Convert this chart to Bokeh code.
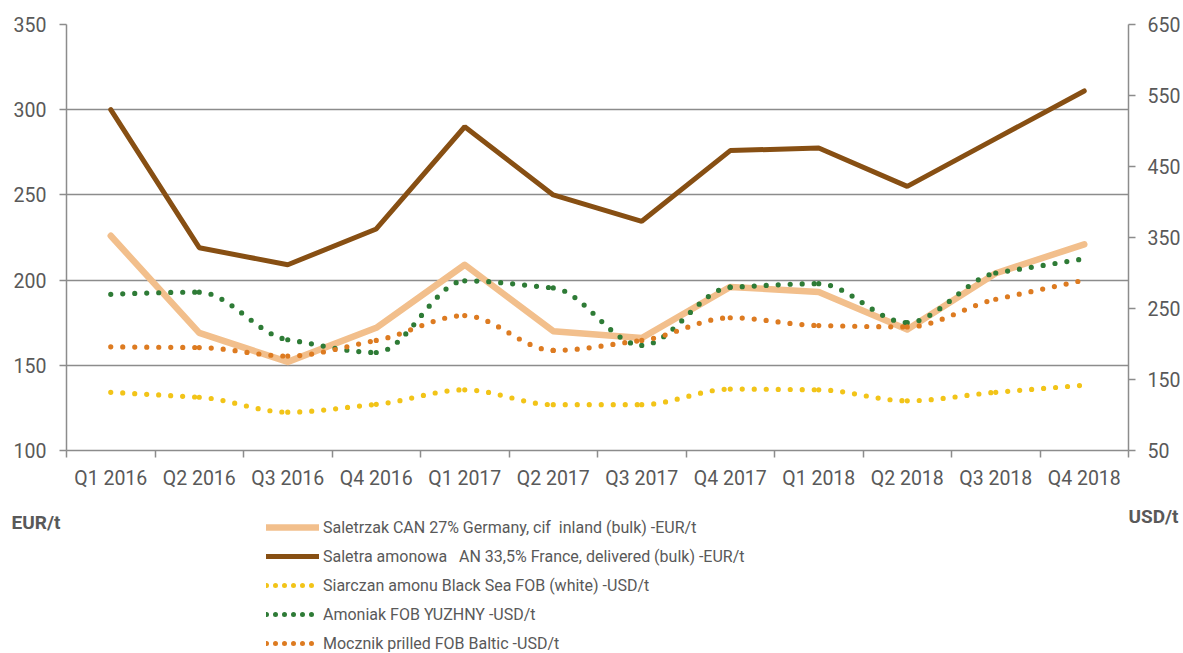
import numpy as np
from bokeh.plotting import figure
from bokeh.layouts import column
from bokeh.models import Range1d, LinearAxis, FixedTicker, Legend, LegendItem, Label, Grid
from bokeh.embed import file_html
from bokeh.resources import INLINE

# ---------------- data ----------------
categories = ["Q1 2016", "Q2 2016", "Q3 2016", "Q4 2016",
              "Q1 2017", "Q2 2017", "Q3 2017", "Q4 2017",
              "Q1 2018", "Q2 2018", "Q3 2018", "Q4 2018"]

can_germany_eur = [226, 169, 152, 172, 209, 170, 166, 196, 193, 171, 204, 221]
an_france_eur = [300, 219, 209, 230, 290, 250, 234.5, 276, 277.5, 255, 283, 311]
siarczan_usd = [132, 125, 104, 115, 135.5, 114.5, 114.5, 136.5, 135.5, 120, 132, 142]
amoniak_usd = [270, 273, 206, 188, 289, 279, 198, 280, 285, 230, 300, 320]
mocznik_usd = [196, 195, 183, 205, 240, 191, 205, 237, 226, 224, 263, 290]

eur_ticks = [100, 150, 200, 250, 300, 350]
usd_ticks = [50, 150, 250, 350, 450, 550, 650]

labels = ["Saletrzak CAN 27% Germany, cif  inland (bulk) -EUR/t",
          "Saletra amonowa   AN 33,5% France, delivered (bulk) -EUR/t",
          "Siarczan amonu Black Sea FOB (white) -USD/t",
          "Amoniak FOB YUZHNY -USD/t",
          "Mocznik prilled FOB Baltic -USD/t"]
left_unit = "EUR/t"
right_unit = "USD/t"

# ---------------- style ----------------
FONT = "Roboto"
TXT = "#595959"
AXC = "#8c8c8c"
C_TAN = "#f2bf8c"
C_BROWN = "#874f13"
C_YELLOW = "#f2c418"
C_GREEN = "#2e7b36"
C_ORANGE = "#dd7b21"
W = 1183

xs = list(range(len(categories)))

p = figure(width=W, height=498, output_backend="svg", toolbar_location=None,
           x_range=Range1d(-0.5, len(categories) - 0.5), y_range=Range1d(100, 350),
           x_axis_type=None, y_axis_type=None,
           min_border_left=66, min_border_right=55, min_border_top=24, min_border_bottom=48)
p.outline_line_color = None
p.frame_align = False
p.extra_y_ranges = {"usd": Range1d(50, 650)}

# axes
xaxis = LinearAxis(ticker=FixedTicker(ticks=xs, minor_ticks=[i - 0.5 for i in range(len(categories) + 1)]),
                   major_label_overrides={i: c for i, c in zip(xs, categories)})
xaxis.major_tick_line_color = None
xaxis.major_tick_out = 7
xaxis.major_tick_in = 0
xaxis.minor_tick_out = 7
xaxis.minor_tick_in = 0
xaxis.minor_tick_line_color = AXC
xaxis.minor_tick_line_width = 1.5
xaxis.axis_line_color = AXC
xaxis.axis_line_width = 1.5
xaxis.major_label_standoff = 9
xaxis.major_label_text_font = FONT
xaxis.major_label_text_font_size = "19.5px"
xaxis.major_label_text_color = TXT
p.add_layout(xaxis, "below")

yaxis = LinearAxis(ticker=FixedTicker(ticks=eur_ticks))
yaxis.major_tick_out = 7
yaxis.major_tick_in = 0
yaxis.minor_tick_line_color = None
yaxis.major_tick_line_color = AXC
yaxis.major_tick_line_width = 1.5
yaxis.axis_line_color = AXC
yaxis.axis_line_width = 1.5
yaxis.major_label_standoff = 13
yaxis.major_label_text_font = FONT
yaxis.major_label_text_font_size = "19.5px"
yaxis.major_label_text_color = TXT
p.add_layout(yaxis, "left")

raxis = LinearAxis(y_range_name="usd", ticker=FixedTicker(ticks=usd_ticks))
raxis.major_tick_out = 7
raxis.major_tick_in = 0
raxis.minor_tick_line_color = None
raxis.major_tick_line_color = AXC
raxis.major_tick_line_width = 1.5
raxis.axis_line_color = AXC
raxis.axis_line_width = 1.5
raxis.major_label_standoff = 12
raxis.major_label_text_font = FONT
raxis.major_label_text_font_size = "19.5px"
raxis.major_label_text_color = TXT
p.add_layout(raxis, "right")

grid = Grid(dimension=1, ticker=FixedTicker(ticks=eur_ticks))
grid.grid_line_color = AXC
grid.grid_line_width = 1.5
p.add_layout(grid)

# ---------------- series ----------------
p.line(xs, can_germany_eur, line_color=C_TAN, line_width=6.5, line_cap="round", line_join="round")
p.line(xs, an_france_eur, line_color=C_BROWN, line_width=5, line_cap="round")


def monotone_segments(xv, yv):
    """Bezier segments of a monotone cubic (smoothed line) through the given points."""
    n = len(xv)
    s = [(yv[i + 1] - yv[i]) / (xv[i + 1] - xv[i]) for i in range(n - 1)]
    m = [0.0] * n
    for i in range(1, n - 1):
        if s[i - 1] * s[i] <= 0:
            m[i] = 0.0
        else:
            sgn = 1 if s[i] > 0 else -1
            m[i] = sgn * min(abs(s[i - 1]), abs(s[i]), 0.5 * abs(s[i - 1] + s[i]))
    m[0] = (3 * s[0] - m[1]) / 2
    m[-1] = (3 * s[-1] - m[-2]) / 2
    seg = dict(x0=[], y0=[], x1=[], y1=[], cx0=[], cy0=[], cx1=[], cy1=[])
    for i in range(n - 1):
        h = xv[i + 1] - xv[i]
        seg["x0"].append(xv[i]); seg["y0"].append(yv[i])
        seg["x1"].append(xv[i + 1]); seg["y1"].append(yv[i + 1])
        seg["cx0"].append(xv[i] + h / 3); seg["cy0"].append(yv[i] + m[i] * h / 3)
        seg["cx1"].append(xv[i + 1] - h / 3); seg["cy1"].append(yv[i + 1] - m[i + 1] * h / 3)
    return seg


dot_style = dict(line_width=5.2, line_dash="0 12", line_cap="round")
for vals, col in [(siarczan_usd, C_YELLOW), (amoniak_usd, C_GREEN), (mocznik_usd, C_ORANGE)]:
    sg = monotone_segments(xs, vals)
    p.bezier(x0=sg["x0"], y0=sg["y0"], x1=sg["x1"], y1=sg["y1"], cx0=sg["cx0"], cy0=sg["cy0"],
             cx1=sg["cx1"], cy1=sg["cy1"], y_range_name="usd", line_color=col, **dot_style)

# ---------------- legend strip ----------------
H2 = 155
q = figure(width=W, height=H2, output_backend="svg", toolbar_location=None,
           x_range=Range1d(0, W), y_range=Range1d(0, H2),
           x_axis_type=None, y_axis_type=None,
           min_border=0, min_border_left=0, min_border_right=0, min_border_top=0, min_border_bottom=0)
q.outline_line_color = None
q.frame_align = False
q.xgrid.visible = False
q.ygrid.visible = False

nan1 = np.array([np.nan])
r_tan = q.line(nan1, nan1, line_color=C_TAN, line_width=6.5, line_cap="round")
r_brown = q.line(nan1, nan1, line_color=C_BROWN, line_width=5, line_cap="round")
leg_dot = dict(line_width=5, line_dash="0 9", line_cap="round")
r_y = q.line(nan1, nan1, line_color=C_YELLOW, **leg_dot)
r_g = q.line(nan1, nan1, line_color=C_GREEN, **leg_dot)
r_o = q.line(nan1, nan1, line_color=C_ORANGE, **leg_dot)

legend = Legend(items=[LegendItem(label=labels[0], renderers=[r_tan]),
                       LegendItem(label=labels[1], renderers=[r_brown]),
                       LegendItem(label=labels[2], renderers=[r_y]),
                       LegendItem(label=labels[3], renderers=[r_g]),
                       LegendItem(label=labels[4], renderers=[r_o])],
                location=(266, 0), orientation="vertical")
legend.background_fill_alpha = 0
legend.border_line_alpha = 0
legend.padding = 0
legend.margin = 0
legend.spacing = 9
legend.glyph_width = 53
legend.glyph_height = 20
legend.label_height = 20
legend.label_standoff = 4
legend.label_text_font = FONT
legend.label_text_font_size = "16px"
legend.label_text_color = TXT
legend.label_text_baseline = "middle"
q.add_layout(legend, "center")

q.add_layout(Label(x=11, y=H2 - 24, text=left_unit,
                   text_font=FONT, text_font_size="19px", text_font_style="bold",
                   text_color=TXT, text_align="left", text_baseline="middle"))
q.add_layout(Label(x=1178, y=H2 - 18, text=right_unit,
                   text_font=FONT, text_font_size="19px", text_font_style="bold",
                   text_color=TXT, text_align="right", text_baseline="middle"))

layout = column(p, q, spacing=0)
open("out.html", "w").write(file_html(layout, INLINE))
